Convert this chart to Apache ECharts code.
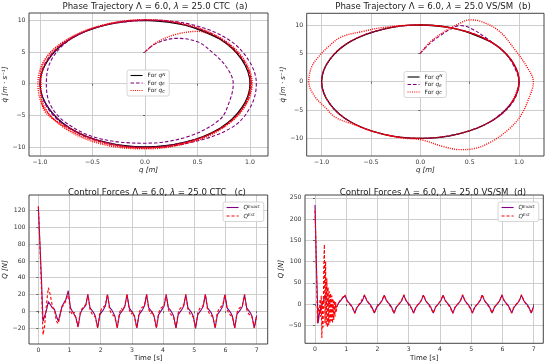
<!DOCTYPE html>
<html><head><meta charset="utf-8">
<script src="https://cdn.jsdelivr.net/npm/echarts@6/dist/echarts.min.js"></script>
<style>html,body{margin:0;padding:0;background:#fff}#c{width:550px;height:363px}</style>
</head><body><div id="c"></div>
<script>
// ---------- DATA ----------
// Phase trajectories: [q, qdot] pairs
const phaseA_N = [[0,10],[0.38,9.24],[0.71,7.07],[0.92,3.83],[1,0],[0.92,-3.83],[0.71,-7.07],[0.38,-9.24],[0,-10],[-0.38,-9.24],[-0.71,-7.07],[-0.92,-3.83],[-1,0],[-0.92,3.83],[-0.71,7.07],[-0.38,9.24],[0,10],[0.38,9.24],[0.71,7.07]];
const phaseA_E = [[0,5],[0.1,6.3],[0.3,7.15],[0.5,6.6],[0.65,4.8],[0.78,2.5],[0.84,0],[0.8,-3],[0.71,-5.7],[0.4,-8.4],[0,-9.4],[-0.45,-8.6],[-0.75,-6.2],[-0.9,-3.4],[-0.94,0],[-0.89,3.8],[-0.7,7.1],[-0.37,9.3],[0,10.05],[0.45,9.3],[0.8,6.9],[0.99,3.6],[1.06,0],[1.0,-3.8],[0.82,-7.0],[0.42,-9.35],[0,-10.1],[-0.39,-9.3],[-0.72,-7.1],[-0.93,-3.8],[-1.0,0],[-0.93,3.8],[-0.71,7.1],[-0.38,9.25],[0,10.02],[0.39,9.25],[0.72,7.1],[0.93,3.85],[1.01,0],[0.93,-3.85],[0.72,-7.1],[0.38,-9.25],[0,-10.02],[-0.38,-9.24],[-0.71,-7.07],[-0.92,-3.83],[-1,0],[-0.92,3.83],[-0.71,7.07],[-0.38,9.24],[0,10]];
const phaseA_C = [[0,5],[0.12,6.6],[0.3,7.8],[0.5,8.25],[0.7,7.2],[0.84,5.4],[0.95,3.3],[1.01,0],[0.95,-3.5],[0.73,-7.1],[0.4,-9.4],[0,-10.3],[-0.4,-9.6],[-0.74,-7.3],[-0.95,-3.9],[-1.0,0],[-0.95,3.9],[-0.72,7.2],[-0.38,9.3],[0,10.1],[0.38,9.4],[0.72,7.2],[0.94,3.9],[1.02,0],[0.94,-3.9],[0.72,-7.2],[0.39,-9.4],[0,-10.2],[-0.39,-9.45],[-0.73,-7.2],[-0.96,-3.9],[-1.02,0],[-0.95,3.9],[-0.72,7.15],[-0.39,9.3],[0,10.05],[0.38,9.3],[0.71,7.1],[0.93,3.85],[1.0,0],[0.93,-3.85],[0.71,-7.1],[0.38,-9.3],[0,-10.1],[-0.38,-9.3],[-0.71,-7.1],[-0.97,-3.85],[-0.99,0],[-0.93,3.85],[-0.71,7.1],[-0.38,9.3],[0,10.05]];
const phaseB_N = [[0,10],[0.38,9.24],[0.71,7.07],[0.92,3.83],[1,0],[0.92,-3.83],[0.71,-7.07],[0.38,-9.24],[0,-10],[-0.38,-9.24],[-0.71,-7.07],[-0.92,-3.83],[-1,0],[-0.92,3.83],[-0.71,7.07],[-0.38,9.24],[0,10],[0.38,9.24],[0.71,7.07]];
const phaseB_E = [[0,5],[0.1,6.8],[0.2,8.1],[0.3,9.2],[0.4,9.9],[0.5,9.5],[0.7,7.3],[0.88,4.6],[0.98,1.5],[1.0,0],[0.93,-3.8],[0.71,-7.07],[0.38,-9.24],[0,-10],[-0.38,-9.24],[-0.71,-7.07],[-0.92,-3.83],[-1,0],[-0.92,3.83],[-0.71,7.07],[-0.38,9.24],[0,10],[0.38,9.24],[0.71,7.07],[0.92,3.83],[1,0],[0.92,-3.83],[0.71,-7.07]];
const phaseB_C = [[0,5],[0.1,7],[0.25,8.9],[0.4,10.3],[0.5,10.9],[0.62,10.6],[0.8,8.9],[0.96,5.6],[1.08,2.6],[1.145,0],[1.094,-3.2],[1.01,-6.2],[0.89,-8.5],[0.72,-10.6],[0.55,-11.8],[0.4,-12.0],[0.22,-11.4],[0.02,-10.3],[-0.2,-9.9],[-0.45,-8.95],[-0.65,-7.7],[-0.86,-6.3],[-0.96,-4.6],[-1.07,-2.6],[-1.13,0],[-1.1,2.65],[-1.03,4.4],[-0.93,6.2],[-0.8,7.9],[-0.6,8.8],[-0.36,9.6],[-0.03,10.0],[0.38,9.24],[0.71,7.07],[0.92,3.83],[1.0,0],[0.92,-3.83],[0.71,-7.07],[0.38,-9.24],[0,-10],[-0.38,-9.24],[-0.71,-7.07],[-0.92,-3.83],[-1,0],[-0.92,3.83],[-0.71,7.07],[-0.38,9.24],[0,10],[0.38,9.24],[0.71,7.07],[0.92,3.83],[1.0,0],[0.92,-3.83]];

// Control forces: time stamps [s]
const tTrans = [0,0.05,0.1,0.15,0.2,0.26,0.32,0.38,0.45,0.52,0.58,0.64,0.7,0.76,0.82,0.88];
const tCycle = [
0.96,1.03,1.09,1.15,1.20,1.274,1.345,1.40,1.46,1.52,
1.588,1.658,1.718,1.778,1.828,1.902,1.973,2.028,2.088,2.148,
2.216,2.286,2.346,2.406,2.456,2.53,2.601,2.656,2.716,2.776,
2.844,2.914,2.974,3.034,3.084,3.158,3.229,3.284,3.344,3.404,
3.472,3.542,3.602,3.662,3.712,3.786,3.857,3.912,3.972,4.032,
4.10,4.17,4.23,4.29,4.34,4.414,4.485,4.54,4.60,4.66,
4.728,4.798,4.858,4.918,4.968,5.042,5.113,5.168,5.228,5.288,
5.356,5.426,5.486,5.546,5.596,5.67,5.741,5.796,5.856,5.916,
5.984,6.054,6.114,6.174,6.224,6.298,6.369,6.424,6.484,6.544,
6.612,6.682,6.742,6.802,6.852,6.926,7.0];
const tTransDEst = [0,0.03,0.06,0.08,0.1,0.12,0.14,0.16,0.18,0.2,0.22,0.24,0.26,0.28,0.3,0.32,0.34,0.36,0.38,0.4,0.42,0.44,0.46,0.48,0.5,0.52,0.54,0.56,0.58,0.6,0.62,0.64,0.66,0.68,0.7,0.73,0.76,0.8,0.84,0.88];

// (c) CTC forces [N]
const cExactTrans = [125,82,38,-12,-13,1,11.5,8,4,2,-6,-12,-3,6,8,14];
const cEstTrans = [125,77,28,-28,-18,8,28,20,6,1,-12,-15,-4,5,8,12];
const cExactCycle = [
24.5,4,0,-2,-7,-18.5,-3,1.5,3.5,7,
20,4,2,-2,-6,-20,-4,-2,2,6,
20,4.5,2,-2,-6,-20,-4,-2,2,6,
20,4,2,-2.5,-6,-20,-4,-2,2,6.5,
20,4,2,-2,-6,-20,-4,-2,2.5,6,
20,4,1.5,-2,-6,-20,-4,-2,2,6,
20,4,2,-2,-6,-20.5,-4,-2,2,6,
20,4,2,-2,-6.5,-20,-4,-2,2,6,
20,4,2,-2,-6,-20,-3.5,-2,2,6,
20,4,2,-2,-6,-20,-5];
const cEstCycle = [
22,0,-4,-1,-8,-19,-1,3,2,8,
20,2,-3,-1,-7,-20,-2,3,1,7,
20,1.5,-3,-1,-7,-20,-2,3.5,1,7,
20.5,2,-3.5,-1,-7,-20,-2,3,1,7,
20,2,-3,-0.5,-7,-20,-2,3,1.5,7,
20,2,-3,-1,-7.5,-20,-2,3,1,7,
20,2.5,-3,-1,-7,-19.5,-2,3,1,7,
20,2,-3,-1,-7,-20,-1.5,3,1,7.5,
20,2,-3,-1,-7,-20,-2,3,1,7,
20,2,-3,-1,-7,-20,-6];

// (d) VS/SM forces [N]
const dExactTrans = [233,80,-45,-18,-6,4,20,12,3,-2,-10,-13,-5,3,8,14];
const dEstTrans = [220,140,20,-45,-15,-8,-22,12,-30,20,-80,10,-55,80,140,-45,100,-50,60,-55,40,-50,30,-45,25,-40,20,-45,12,-38,8,-30,5,-18,-8,0,4,8,12,15];
const dExactCycle = [
20,8,3,-2,-8,-21,-8,-3,2,8,
21,8,3,-2,-8,-21,-8,-3,2,8,
21,8.5,3,-2,-8,-21,-8,-3,2,8,
21,8,3,-2,-8.5,-21,-8,-3,2,8,
21,8,3,-2,-8,-21,-8,-3,2.5,8,
21,8,3,-2,-8,-21,-8,-3,2,8,
21,8,3,-2.5,-8,-21,-8,-3,2,8,
21,8,3,-2,-8,-21,-8.5,-3,2,8,
21,8,3,-2,-8,-21,-8,-3,2,8,
21,8,3,-2,-8,-21,-5];
const dEstCycle = [
22,7,5,-4,-9,-22,-6,-5,4,7,
22,9,2,-1,-10,-21,-7,-4,3,9,
21,9,2,-1,-10,-22,-7,-4,3,9,
22,9,2,-1,-10,-21,-7,-4,3,9,
22,9,2,-1,-10,-21,-7,-4,3,9,
21,9,2,-1,-10,-22,-7,-4,3,9,
22,9,2,-1,-10,-21,-7,-4,3,9,
22,9,2,-1,-10,-21,-7,-4,3,9,
22,9,2,-1,-10,-21,-7,-4,3,9,
22,9,2,-1,-10,-21,-6];

// Tick steps per panel
const xSteps = [0.5,0.5,1,1];
const ySteps = [5,5,20,50];

// ---------- CHART ----------
const FONT = 'DejaVu Sans';
const PURPLE = '#800080', RED = '#ff0000';
function pairs(ts, vs){ return ts.map((t,i)=>[t, vs[i]]); }
const cExactData = pairs(tTrans.concat(tCycle), cExactTrans.concat(cExactCycle));
const cEstData = pairs(tTrans.concat(tCycle), cEstTrans.concat(cEstCycle));
const dExactData = pairs(tTrans.concat(tCycle), dExactTrans.concat(dExactCycle));
const dEstData = pairs(tTransDEst.concat(tCycle), dEstTrans.concat(dEstCycle));

const grids = [
  {left:29, top:13, width:239, height:143},
  {left:306.7, top:13.3, width:237.3, height:142.7},
  {left:29, top:195, width:238.7, height:149},
  {left:305, top:195, width:238.3, height:148.3}
].map(g => Object.assign(g, {show:true, borderColor:'#444', borderWidth:1, backgroundColor:'transparent', z:5}));
const xRanges = [[-1.105,1.171],[-1.151,1.253],[-0.3,7.355],[-0.32,7.31]];
const yRanges = [[-11.42,11.15],[-13.12,12.06],[-39.1,138.7],[-92.3,256.5]];
const xNames = ['q [m]','q [m]','Time [s]','Time [s]'];
const xItalic = [true,true,false,false];
const yNames = ['q\u0307 [m \u00B7 s\u207B\u00B9]','q\u0307 [m \u00B7 s\u207B\u00B9]','Q [N]','Q [N]'];

function fmt(step){ return v => (step < 1 ? v.toFixed(1) : String(Math.round(v))).replace('-', '\u2212'); }
const splitLine = {show:true, showMinLine:false, showMaxLine:false, lineStyle:{color:'#c8c8c8', width:0.9}};
const xAxis = grids.map((g,i)=>({
  type:'value', gridIndex:i, min:xRanges[i][0], max:xRanges[i][1],
  minInterval:xSteps[i], maxInterval:xSteps[i], splitNumber:5,
  axisLine:{show:false}, axisTick:{show:true, length:2, lineStyle:{color:'#444', width:0.8}},
  axisLabel:{fontSize:6.2, color:'#333', margin:3.5, fontFamily:FONT, formatter:fmt(xSteps[i]), showMinLabel:false, showMaxLabel:false},
  splitLine,
  name:xNames[i], nameLocation:'middle', nameGap:11,
  nameTextStyle:{fontSize:7, color:'#222', fontFamily:FONT, fontStyle: xItalic[i] ? 'italic' : 'normal'}
}));
const yAxis = grids.map((g,i)=>({
  type:'value', gridIndex:i, min:yRanges[i][0], max:yRanges[i][1],
  minInterval:ySteps[i], maxInterval:ySteps[i], splitNumber:5,
  axisLine:{show:false}, axisTick:{show:true, length:2, lineStyle:{color:'#444', width:0.8}},
  axisLabel:{fontSize:6.2, color:'#333', margin:3.5, fontFamily:FONT, formatter:fmt(ySteps[i]), showMinLabel:false, showMaxLabel:false},
  splitLine,
  name:yNames[i], nameLocation:'middle', nameGap:19,
  nameTextStyle:{fontSize:7, color:'#222', fontFamily:FONT, fontStyle:'italic'}
}));

const titleRich = {i:{fontStyle:'italic', fontSize:8.6, color:'#222', fontFamily:FONT}};
function title(text, x, y){
  return {text, left:x, top:y, textAlign:'center', padding:0,
    textStyle:{fontSize:8.6, fontWeight:'normal', color:'#222', fontFamily:FONT, rich:titleRich}};
}

const legendText = {
  aN:'For {q|q}{sup|N}', aE:'For {q|q}{sub|E}', aC:'For {q|q}{sub|C}',
  bN:'For {q|q}{sup|N}', bE:'For {q|q}{sub|E}', bC:'For {q|q}{sub|C}',
  cX:'{q|Q}{sup|Exact}', cS:'{q|Q}{sup|Est}', dX:'{q|Q}{sup|Exact}', dS:'{q|Q}{sup|Est}'
};
const legRich = {
  q:{fontStyle:'italic', fontSize:5.8, color:'#222', fontFamily:FONT},
  sup:{fontStyle:'italic', fontSize:4.2, verticalAlign:'top', color:'#222', fontFamily:FONT},
  sub:{fontStyle:'italic', fontSize:4.2, verticalAlign:'bottom', color:'#222', fontFamily:FONT}
};
function legend(data, x, y, gap){
  return {data, left:x, top:y, orient:'vertical', itemWidth:12, itemHeight:6, itemGap:gap,
    padding:[2.5,4,2.5,3], backgroundColor:'rgba(255,255,255,0.85)', borderColor:'#cccccc', borderWidth:0.8, borderRadius:2,
    selectedMode:false, formatter:n => legendText[n],
    lineStyle:{width:1.1},
    itemStyle:{color:'rgba(0,0,0,0)', borderColor:'rgba(0,0,0,0)', borderWidth:0, opacity:0},
    textStyle:{fontSize:5.8, color:'#222', fontFamily:FONT, rich:legRich}};
}

function ser(name, idx, data, color, width, type, smooth){
  return {name, type:'line', xAxisIndex:idx, yAxisIndex:idx, data, symbol:'none', showSymbol:false,
    smooth: smooth || false, smoothMonotone:'none', lineStyle:{color, width, type}, itemStyle:{color}, animation:false};
}

const option = {
  animation:false,
  backgroundColor:'#fff',
  title:[
    title('Phase Trajectory \u039B = 6.0, {i|\u03BB} = 25.0 CTC  (a)', 155, 2),
    title('Phase Trajectory \u039B = 6.0, {i|\u03BB} = 25.0 VS/SM  (b)', 433, 2),
    title('Control Forces \u039B = 6.0, {i|\u03BB} = 25.0 CTC   (c)', 157, 188),
    title('Control Forces \u039B = 6.0, {i|\u03BB} = 25.0 VS/SM  (d)', 433, 188)
  ],
  legend:[
    legend(['aN','aE','aC'], 127, 70, 1.5),
    legend(['bN','bE','bC'], 404, 71.5, 1.5),
    legend(['cX','cS'], 223, 202, 2.5),
    legend(['dX','dS'], 498, 202, 2.5)
  ],
  grid:grids, xAxis, yAxis,
  series:[
    ser('aN',0,phaseA_N,'#000',1.3,'solid',0.36),
    ser('aE',0,phaseA_E,PURPLE,1.1,[3.5,2],0.36),
    ser('aC',0,phaseA_C,RED,1.4,[1,1.2],0.36),
    ser('bN',1,phaseB_N,'#000',1.3,'solid',0.36),
    ser('bE',1,phaseB_E,PURPLE,1.1,[3.5,2],0.36),
    ser('bC',1,phaseB_C,RED,1.4,[1,1.2],0.36),
    ser('cX',2,cExactData,PURPLE,1.1,'solid'),
    ser('cS',2,cEstData,RED,1.1,[3,2]),
    ser('dX',3,dExactData,PURPLE,1.1,'solid'),
    ser('dS',3,dEstData,RED,1.1,[3,2])
  ]
};
const chart = echarts.init(document.getElementById('c'), null, {renderer:'canvas'});
chart.setOption(option);
</script></body></html>
